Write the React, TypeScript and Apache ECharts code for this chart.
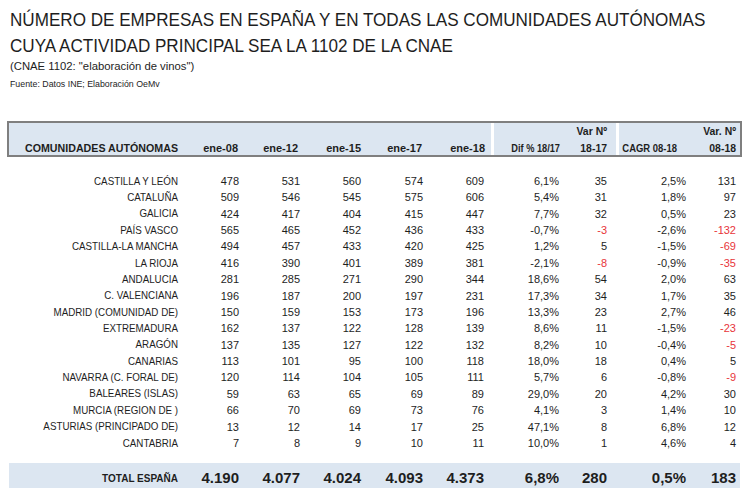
import React, { useEffect, useRef } from "react";
import * as echarts from "echarts";

const titleLines = [
  "NÚMERO DE EMPRESAS EN ESPAÑA Y EN TODAS LAS COMUNIDADES AUTÓNOMAS",
  "CUYA ACTIVIDAD PRINCIPAL SEA LA 1102 DE LA CNAE",
];
const subtitle = '(CNAE 1102: "elaboración de vinos")';
const source = "Fuente: Datos INE; Elaboración OeMv";

const regionHeader = "COMUNIDADES AUTÓNOMAS";
const headerTop = ["", "", "", "", "", "", "Var Nº", "", "Var. Nº"];
const headerBottom = ["ene-08", "ene-12", "ene-15", "ene-17", "ene-18", "Dif % 18/17", "18-17", "CAGR 08-18", "08-18"];

const regions = [
  "CASTILLA Y LEÓN", "CATALUÑA", "GALICIA", "PAÍS VASCO", "CASTILLA-LA MANCHA", "LA RIOJA",
  "ANDALUCIA", "C. VALENCIANA", "MADRID (COMUNIDAD DE)", "EXTREMADURA", "ARAGÓN", "CANARIAS",
  "NAVARRA (C. FORAL DE)", "BALEARES (ISLAS)", "MURCIA (REGION DE )", "ASTURIAS (PRINCIPADO DE)", "CANTABRIA",
];
const ene08 = [478, 509, 424, 565, 494, 416, 281, 196, 150, 162, 137, 113, 120, 59, 66, 13, 7];
const ene12 = [531, 546, 417, 465, 457, 390, 285, 187, 159, 137, 135, 101, 114, 63, 70, 12, 8];
const ene15 = [560, 545, 404, 452, 433, 401, 271, 200, 153, 122, 127, 95, 104, 65, 69, 14, 9];
const ene17 = [574, 575, 415, 436, 420, 389, 290, 197, 173, 128, 122, 100, 105, 69, 73, 17, 10];
const ene18 = [609, 606, 447, 433, 425, 381, 344, 231, 196, 139, 132, 118, 111, 89, 76, 25, 11];
const dif1817 = [6.1, 5.4, 7.7, -0.7, 1.2, -2.1, 18.6, 17.3, 13.3, 8.6, 8.2, 18.0, 5.7, 29.0, 4.1, 47.1, 10.0];
const var1817 = [35, 31, 32, -3, 5, -8, 54, 34, 23, 11, 10, 18, 6, 20, 3, 8, 1];
const cagr0818 = [2.5, 1.8, 0.5, -2.6, -1.5, -0.9, 2.0, 1.7, 2.7, -1.5, -0.4, 0.4, -0.8, 4.2, 1.4, 6.8, 4.6];
const var0818 = [131, 97, 23, -132, -69, -35, 63, 35, 46, -23, -5, 5, -9, 30, 10, 12, 4];

const totalLabel = "TOTAL ESPAÑA";
const totalEne = [4190, 4077, 4024, 4093, 4373];
const totalDif1817 = 6.8;
const totalVar1817 = 280;
const totalCagr0818 = 0.5;
const totalVar0818 = 183;

// layout (pixel anchors for right-aligned columns)
const labelRight = 178;
const colRight = [239, 300, 361, 423, 484, 559, 607, 686, 736];
const headRight = [238, 298, 361, 422, 485, 560, 607, 677, 736];
const headScale = [1, 1, 1, 1, 1, 0.84, 0.95, 0.86, 0.95];

const FF = '"Liberation Sans", Arial, sans-serif';
const TXT = "#1e1e1e";
const RED = "#e8353a";
const BLUE = "#dce6f1";

const fmtInt = (v: number) => {
  const s = Math.abs(v).toString().replace(/\B(?=(\d{3})+(?!\d))/g, ".");
  return (v < 0 ? "-" : "") + s;
};
const fmtPct = (v: number) => v.toFixed(1).replace(".", ",") + "%";

type Cell = { x: number; row: number; text: string; color: string; kind: "label" | "num" | "tlabel" | "tnum" };

function buildCells(): Cell[] {
  const cells: Cell[] = [];
  regions.forEach((r, ri) => cells.push({ x: labelRight, row: ri, text: r, color: TXT, kind: "label" }));
  const cols: { vals: number[]; kind: "int" | "pct" | "var" }[] = [
    { vals: ene08, kind: "int" },
    { vals: ene12, kind: "int" },
    { vals: ene15, kind: "int" },
    { vals: ene17, kind: "int" },
    { vals: ene18, kind: "int" },
    { vals: dif1817, kind: "pct" },
    { vals: var1817, kind: "var" },
    { vals: cagr0818, kind: "pct" },
    { vals: var0818, kind: "var" },
  ];
  cols.forEach((c, ci) => {
    c.vals.forEach((v, ri) => {
      cells.push({
        x: colRight[ci],
        row: ri,
        text: c.kind === "pct" ? fmtPct(v) : fmtInt(v),
        color: c.kind === "var" && v < 0 ? RED : TXT,
        kind: "num",
      });
    });
  });
  const totalRow = regions.length + 1;
  cells.push({ x: labelRight, row: totalRow, text: totalLabel, color: TXT, kind: "tlabel" });
  const totals = [
    ...totalEne.map(fmtInt),
    fmtPct(totalDif1817),
    fmtInt(totalVar1817),
    fmtPct(totalCagr0818),
    fmtInt(totalVar0818),
  ];
  totals.forEach((t, ci) => cells.push({ x: colRight[ci], row: totalRow, text: t, color: TXT, kind: "tnum" }));
  return cells;
}

const cellStyle: Record<string, { size: number; weight: string; sx: number; dy: number }> = {
  label: { size: 11, weight: "normal", sx: 0.89, dy: 0 },
  num: { size: 11, weight: "normal", sx: 1, dy: 0 },
  tlabel: { size: 11, weight: "bold", sx: 0.91, dy: 2 },
  tnum: { size: 15, weight: "bold", sx: 1, dy: 2 },
};

export default function App() {
  const ref = useRef<HTMLDivElement>(null);
  useEffect(() => {
    if (!ref.current) return;
    const chart = echarts.init(ref.current, undefined, { renderer: "svg" });
    const cells = buildCells();
    const yCats = [...regions, "", totalLabel];

    const txt = (x: number, y: number, text: string, size: number, weight: string, align: string, sx = 1) => ({
      type: "text",
      x,
      y,
      scaleX: sx,
      scaleY: 1,
      z: 10,
      style: {
        text,
        fontSize: size,
        fontWeight: weight,
        fontFamily: FF,
        fill: TXT,
        align,
        textAlign: align,
        verticalAlign: "middle",
        textVerticalAlign: "middle",
      },
    });

    const graphics: any[] = [
      {
        type: "rect",
        z: -1,
        shape: { x: 8, y: 122, width: 733, height: 34 },
        style: { fill: BLUE, stroke: "#7f7f7f", lineWidth: 2 },
      },
      { type: "rect", z: 0, shape: { x: 491, y: 123, width: 3, height: 32 }, style: { fill: "#ffffff" } },
      { type: "rect", z: 0, shape: { x: 616, y: 123, width: 3, height: 32 }, style: { fill: "#ffffff" } },
      { type: "rect", z: -1, shape: { x: 9, y: 463, width: 731, height: 25 }, style: { fill: BLUE } },
      txt(10, 20, titleLines[0], 19, "normal", "left", 0.9),
      txt(10, 46, titleLines[1], 19, "normal", "left", 0.9),
      txt(10, 66, subtitle, 11.3, "normal", "left"),
      txt(10, 84, source, 8.8, "normal", "left"),
      txt(178, 148, regionHeader, 11, "bold", "right", 0.97),
    ];
    headerBottom.forEach((h, i) => graphics.push(txt(headRight[i], 148, h, 11, "bold", "right", headScale[i])));
    headerTop.forEach((h, i) => {
      if (h) graphics.push(txt(headRight[i], 131, h, 11, "bold", "right", headScale[i]));
    });

    chart.setOption({
      animation: false,
      backgroundColor: "#ffffff",
      grid: { left: 0, right: 10, top: 172.8, bottom: 4.2, containLabel: false },
      xAxis: { type: "value", min: 0, max: 740, show: false },
      yAxis: {
        type: "category",
        inverse: true,
        data: yCats,
        show: false,
      },
      graphic: graphics,
      series: [
        {
          type: "custom",
          z: 5,
          clip: false,
          encode: { x: 0, y: 1 },
          data: cells.map((c) => [c.x, c.row]),
          renderItem: (params: any, api: any) => {
            const c = cells[params.dataIndex];
            const st = cellStyle[c.kind];
            const pt = api.coord([api.value(0), api.value(1)]);
            return {
              type: "text",
              x: pt[0],
              y: pt[1] + st.dy,
              scaleX: st.sx,
              scaleY: 1,
              style: {
                text: c.text,
                fill: c.color,
                fontFamily: FF,
                fontSize: st.size,
                fontWeight: st.weight,
                align: "right",
                textAlign: "right",
                verticalAlign: "middle",
                textVerticalAlign: "middle",
              },
            };
          },
        },
      ],
    });
    return () => chart.dispose();
  }, []);
  return (
    <div
      ref={ref}
      style={{ position: "absolute", left: 0, top: 0, width: 750, height: 488, background: "#fff" }}
    />
  );
}
